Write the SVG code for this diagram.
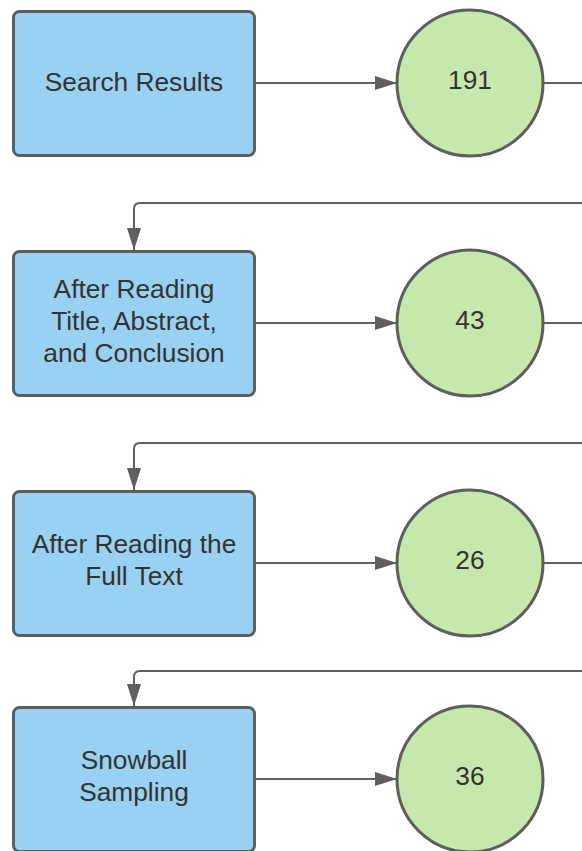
<svg xmlns="http://www.w3.org/2000/svg" width="582" height="851" viewBox="0 0 582 851">
<style>
.box{fill:#99d1f2;stroke:#5e5e5e;stroke-width:3}
.circ{fill:#c7e8ad;stroke:#5e5e5e;stroke-width:3}
.lbl{font-family:"Liberation Sans",Arial,sans-serif;font-size:26.3px;fill:#333333;text-anchor:middle}
.edge{fill:none;stroke:#5e5e5e;stroke-width:2}
</style>
<defs>
<marker id="ah" markerWidth="22" markerHeight="14" refX="22" refY="7" orient="auto" markerUnits="userSpaceOnUse">
<path d="M0,0 L22,7 L0,14 Z" fill="#5e5e5e"/>
</marker>
</defs>
<rect width="582" height="851" fill="#ffffff"/>
<g id="connectors">
<path class="edge" d="M255,83 H397" marker-end="url(#ah)"/>
<path class="edge" d="M543,83 H582"/>
<path class="edge" d="M582,203 H140 Q134,203 134,209 V250" marker-end="url(#ah)"/>
<path class="edge" d="M255,323 H397" marker-end="url(#ah)"/>
<path class="edge" d="M543,323 H582"/>
<path class="edge" d="M582,443 H140 Q134,443 134,449 V490" marker-end="url(#ah)"/>
<path class="edge" d="M255,563 H397" marker-end="url(#ah)"/>
<path class="edge" d="M543,563 H582"/>
<path class="edge" d="M582,671 H140 Q134,671 134,677 V706" marker-end="url(#ah)"/>
<path class="edge" d="M255,779 H397" marker-end="url(#ah)"/>
</g>
<g id="search-results">
<rect class="box" x="13.5" y="11.5" width="241" height="144" rx="6"/>
<text class="lbl" x="134" y="91">Search Results</text>
</g>
<g id="n191">
<circle class="circ" cx="470" cy="83" r="73"/>
<text class="lbl" x="470" y="89">191</text>
</g>
<g id="after-title">
<rect class="box" x="13.5" y="251.5" width="241" height="144" rx="6"/>
<text class="lbl" x="134" y="298">After Reading</text>
<text class="lbl" x="134" y="330">Title, Abstract,</text>
<text class="lbl" x="134" y="362">and Conclusion</text>
</g>
<g id="n43">
<circle class="circ" cx="470" cy="323" r="73"/>
<text class="lbl" x="470" y="329">43</text>
</g>
<g id="after-full">
<rect class="box" x="13.5" y="491.5" width="241" height="144" rx="6"/>
<text class="lbl" x="134" y="553">After Reading the</text>
<text class="lbl" x="134" y="585">Full Text</text>
</g>
<g id="n26">
<circle class="circ" cx="470" cy="563" r="73"/>
<text class="lbl" x="470" y="569">26</text>
</g>
<g id="snowball">
<rect class="box" x="13.5" y="707.5" width="241" height="144" rx="6"/>
<text class="lbl" x="134" y="769">Snowball</text>
<text class="lbl" x="134" y="801">Sampling</text>
</g>
<g id="n36">
<circle class="circ" cx="470" cy="779" r="73"/>
<text class="lbl" x="470" y="785">36</text>
</g>
</svg>
